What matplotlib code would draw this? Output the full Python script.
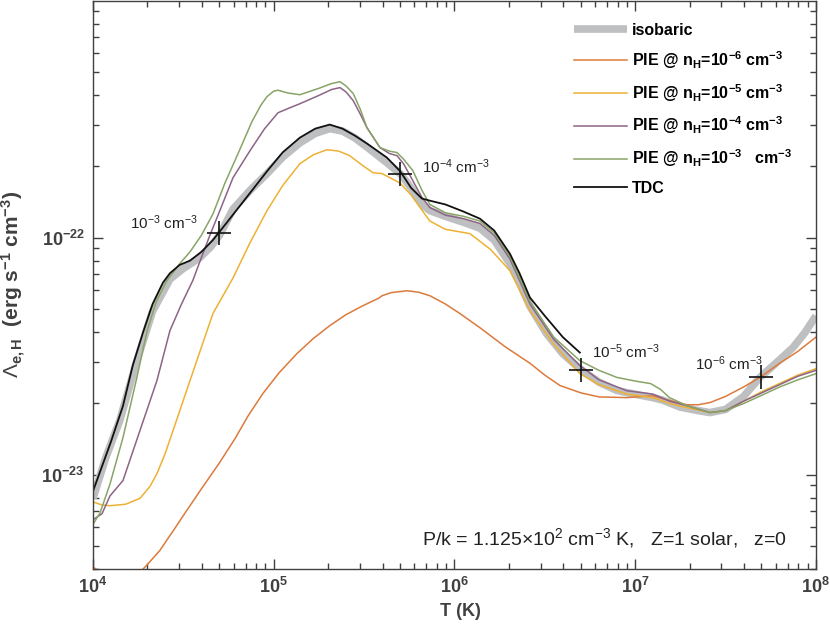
"""Electron cooling efficiency vs temperature: isobaric, PIE and TDC curves."""
import numpy as np
import matplotlib
matplotlib.use("Agg")
import matplotlib.pyplot as plt

plt.rcParams['font.family'] = ['Liberation Sans', 'DejaVu Sans']
plt.rcParams['mathtext.fontset'] = 'custom'
plt.rcParams['mathtext.rm'] = 'Liberation Sans'
plt.rcParams['mathtext.it'] = 'Liberation Sans:italic'
plt.rcParams['mathtext.bf'] = 'Liberation Sans:bold'

AXC = '#404040'

# log10 T (K) and log10 Lambda (erg s^-1 cm^-3)
iso_logT = [4.00, 4.07, 4.149, 4.243, 4.33, 4.426, 4.50, 4.59, 4.65, 4.70, 4.775,
            4.87, 4.963, 5.05, 5.145, 5.23, 5.31, 5.38, 5.45, 5.52, 5.62, 5.70,
            5.76, 5.82, 5.864, 5.95, 6.05, 6.141, 6.22, 6.307, 6.36, 6.418, 6.51,
            6.60, 6.694, 6.80, 6.90, 6.954, 7.05, 7.098, 7.15, 7.25, 7.35, 7.414,
            7.50, 7.60, 7.69, 7.80, 7.873, 7.94, 8.00]
iso_logL = [-23.10, -22.93, -22.77, -22.519, -22.31, -22.175, -22.13, -22.085, -22.04,
            -21.99, -21.88, -21.80, -21.73, -21.66, -21.60, -21.56, -21.54, -21.55,
            -21.58, -21.62, -21.68, -21.73, -21.79, -21.86, -21.886, -21.91, -21.935,
            -21.96, -22.01, -22.11, -22.19, -22.29, -22.405, -22.49, -22.553, -22.61,
            -22.645, -22.654, -22.668, -22.675, -22.685, -22.715, -22.73, -22.738,
            -22.725, -22.67, -22.59, -22.515, -22.464, -22.40, -22.33]

n6_logT = [4.00, 4.04, 4.10, 4.18, 4.25, 4.30, 4.37, 4.45, 4.52, 4.60, 4.70, 4.786,
           4.86, 4.94, 5.03, 5.129, 5.22, 5.311, 5.40, 5.494, 5.58, 5.60, 5.65, 5.737,
           5.80, 5.864, 5.95, 6.03, 6.141, 6.28, 6.418, 6.50, 6.584, 6.70, 6.80, 6.954,
           7.098, 7.18, 7.286, 7.35, 7.414, 7.50, 7.60, 7.69, 7.80, 7.90, 8.00]
n6_logL = [-23.39, -23.41, -23.45, -23.46, -23.42, -23.38, -23.32, -23.23, -23.15,
           -23.06, -22.95, -22.848, -22.75, -22.658, -22.57, -22.489, -22.425, -22.371,
           -22.325, -22.287, -22.256, -22.245, -22.232, -22.224, -22.23, -22.245, -22.28,
           -22.32, -22.38, -22.46, -22.53, -22.58, -22.624, -22.655, -22.672, -22.675,
           -22.667, -22.685, -22.705, -22.705, -22.696, -22.67, -22.63, -22.59, -22.53,
           -22.48, -22.42]

n5_logT = [4.00, 4.05, 4.094, 4.18, 4.26, 4.315, 4.354, 4.40, 4.443, 4.537, 4.61, 4.664,
           4.775, 4.87, 4.963, 5.05, 5.145, 5.22, 5.295, 5.36, 5.42, 5.50, 5.55, 5.60,
           5.70, 5.76, 5.81, 5.864, 5.95, 6.086, 6.20, 6.307, 6.36, 6.418, 6.55, 6.694,
           6.80, 6.954, 7.098, 7.19, 7.286, 7.414, 7.50, 7.60, 7.70, 7.80, 7.90, 8.00]
n5_logL = [-23.115, -23.128, -23.131, -23.125, -23.10, -23.05, -22.996, -22.91, -22.814,
           -22.603, -22.44, -22.32, -22.17, -22.02, -21.886, -21.78, -21.688, -21.65,
           -21.629, -21.635, -21.654, -21.70, -21.726, -21.73, -21.77, -21.82, -21.873,
           -21.93, -21.965, -21.983, -22.05, -22.139, -22.22, -22.308, -22.45, -22.574,
           -22.62, -22.66, -22.675, -22.70, -22.717, -22.738, -22.73, -22.69, -22.65,
           -22.615, -22.58, -22.553]

n4_logT = [4.00, 4.05, 4.094, 4.166, 4.26, 4.354, 4.426, 4.49, 4.553, 4.592, 4.647, 4.70,
           4.775, 4.869, 4.95, 5.024, 5.08, 5.145, 5.25, 5.32, 5.367, 5.40, 5.44, 5.48,
           5.516, 5.588, 5.64, 5.682, 5.72, 5.77, 5.82, 5.864, 5.95, 6.05, 6.141, 6.22,
           6.307, 6.36, 6.418, 6.55, 6.694, 6.80, 6.954, 7.098, 7.19, 7.286, 7.414, 7.50,
           7.60, 7.70, 7.80, 7.90, 8.00]
n4_logL = [-23.19, -23.165, -23.09, -23.025, -22.814, -22.603, -22.392, -22.28, -22.18,
           -22.10, -21.99, -21.89, -21.747, -21.633, -21.54, -21.473, -21.455, -21.435,
           -21.40, -21.375, -21.367, -21.385, -21.422, -21.48, -21.536, -21.62, -21.645,
           -21.654, -21.69, -21.76, -21.83, -21.873, -21.905, -21.92, -21.94, -21.99,
           -22.09, -22.18, -22.28, -22.43, -22.54, -22.60, -22.646, -22.66, -22.69,
           -22.709, -22.738, -22.73, -22.69, -22.655, -22.62, -22.585, -22.56]

n3_logT = [4.00, 4.04, 4.094, 4.166, 4.243, 4.30, 4.35, 4.41, 4.48, 4.537, 4.60, 4.664,
           4.73, 4.80, 4.88, 4.93, 4.963, 5.00, 5.024, 5.08, 5.145, 5.25, 5.32, 5.367,
           5.40, 5.44, 5.48, 5.516, 5.588, 5.64, 5.682, 5.72, 5.77, 5.82, 5.864, 5.95,
           6.05, 6.141, 6.22, 6.307, 6.36, 6.418, 6.55, 6.694, 6.80, 6.90, 7.00, 7.086,
           7.14, 7.19, 7.286, 7.414, 7.50, 7.60, 7.70, 7.80, 7.90, 8.00]
n3_logL = [-23.21, -23.16, -23.04, -22.844, -22.59, -22.392, -22.27, -22.18, -22.11,
           -22.06, -21.99, -21.90, -21.77, -21.65, -21.51, -21.44, -21.405, -21.382,
           -21.378, -21.39, -21.397, -21.37, -21.35, -21.342, -21.36, -21.392, -21.46,
           -21.536, -21.62, -21.635, -21.641, -21.67, -21.717, -21.80, -21.86, -21.895,
           -21.91, -21.93, -21.98, -22.08, -22.17, -22.27, -22.42, -22.519, -22.56,
           -22.59, -22.605, -22.616, -22.64, -22.675, -22.709, -22.738, -22.73, -22.70,
           -22.665, -22.63, -22.60, -22.574]

tdc_logT = [4.00, 4.10, 4.166, 4.22, 4.277, 4.33, 4.387, 4.426, 4.48, 4.537, 4.60, 4.664,
            4.74, 4.85, 4.963, 5.05, 5.145, 5.23, 5.31, 5.38, 5.45, 5.516, 5.626, 5.70,
            5.76, 5.82, 5.864, 5.95, 6.05, 6.141, 6.22, 6.307, 6.36, 6.418, 6.50, 6.60,
            6.694]
tdc_logL = [-23.07, -22.86, -22.71, -22.54, -22.40, -22.28, -22.19, -22.15, -22.115,
            -22.097, -22.06, -22.01, -21.937, -21.83, -21.72, -21.64, -21.578, -21.54,
            -21.523, -21.54, -21.57, -21.603, -21.662, -21.72, -21.79, -21.835, -21.844,
            -21.86, -21.89, -21.92, -21.97, -22.068, -22.15, -22.253, -22.33, -22.42,
            -22.485]

# isobaric points marked with crosses and their density labels
mark_T = [5e4, 5e5, 5e6, 5e7]
mark_L = [1.05e-22, 1.86e-22, 2.77e-23, 2.57e-23]
mark_text = ['10$^{-3}$ cm$^{-3}$', '10$^{-4}$ cm$^{-3}$',
             '10$^{-5}$ cm$^{-3}$', '10$^{-6}$ cm$^{-3}$']
text_T = [10**4.205, 10**5.82, 10**6.76, 10**7.33]
text_L = [10**-21.937, 10**-21.70, 10**-22.481, 10**-22.532]

pie_series = [
    (n6_logT, n6_logL, '#DC7A3C', 'PIE @ n$_{\\mathbf{H}}$=10$^{\\mathbf{-6}}$ cm$^{\\mathbf{-3}}$'),
    (n5_logT, n5_logL, '#EDB133', 'PIE @ n$_{\\mathbf{H}}$=10$^{\\mathbf{-5}}$ cm$^{\\mathbf{-3}}$'),
    (n4_logT, n4_logL, '#8C6488', 'PIE @ n$_{\\mathbf{H}}$=10$^{\\mathbf{-4}}$ cm$^{\\mathbf{-3}}$'),
    (n3_logT, n3_logL, '#88A466', 'PIE @ n$_{\\mathbf{H}}$=10$^{\\mathbf{-3}}$   cm$^{\\mathbf{-3}}$'),
]

fig = plt.figure(figsize=(8.3, 6.28), dpi=100)
ax = fig.add_axes([0.112, 0.094, 0.871, 0.905])

handles = []
h, = ax.plot(10**np.array(iso_logT), 10**np.array(iso_logL), color='#BEBFC1',
             lw=5.5, solid_capstyle='butt', label='isobaric')
handles.append(h)
for lt, ll, c, lab in pie_series:
    h, = ax.plot(10**np.array(lt), 10**np.array(ll), color=c, lw=1.1, label=lab)
    handles.append(h)
h, = ax.plot(10**np.array(tdc_logT), 10**np.array(tdc_logL), color='#111111',
             lw=1.3, label='TDC')
handles.append(h)

ax.plot(mark_T, mark_L, ls='none', marker='+', ms=17, mew=1.2, color='#111111', zorder=6)
for tx, ty, s in zip(text_T, text_L, mark_text):
    ax.text(tx, ty, s, fontsize=11, ha='left', va='center', color='#222222')

ax.text(0.455, 0.054, 'P/k = 1.125$\\times$10$^{2}$ cm$^{-3}$ K,   Z=1 solar,   z=0',
        transform=ax.transAxes, fontsize=14, ha='left', va='center', color='#222222')

ax.set_xscale('log')
ax.set_yscale('log')
ax.set_xlim(1e4, 1e8)
ax.set_ylim(4e-24, 1e-21)
ax.set_xticks([1e4, 1e5, 1e6, 1e7, 1e8])
ax.set_xticklabels([r'$\mathbf{10^{%d}}$' % e for e in range(4, 9)])
ax.set_yticks([1e-23, 1e-22])
ax.set_yticklabels([r'$\mathbf{10^{-23}}$', r'$\mathbf{10^{-22}}$'])
ax.tick_params(which='both', direction='in', top=True, right=True, color=AXC,
               labelcolor=AXC, labelsize=13, width=1.0)
ax.tick_params(which='major', length=7, pad=6)
ax.tick_params(which='minor', length=4)
for sp in ax.spines.values():
    sp.set_color(AXC)
    sp.set_linewidth(1.0)

ax.set_xlabel('T (K)', fontsize=13, fontweight='bold', color=AXC)
ax.xaxis.set_label_coords(0.508, -0.06)
ax.set_ylabel(r'$\Lambda_{\mathbf{e,H}}$  (erg s$^{\mathbf{-1}}$ cm$^{\mathbf{-3}}$)',
              fontsize=15, fontweight='bold', color=AXC)
ax.yaxis.set_label_coords(-0.09, 0.5)

ax.legend(handles=handles, loc='upper left', bbox_to_anchor=(0.655, 0.975),
          frameon=False, prop={'weight': 'bold', 'size': 11.5},
          handlelength=3.3, handletextpad=0.3, labelspacing=0.7, borderpad=0)

fig.savefig('out.png', dpi=100)
